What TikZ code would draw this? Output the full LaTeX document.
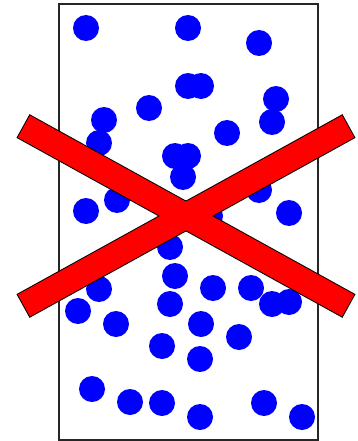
\documentclass[tikz,border=0pt]{standalone}
\usepackage{tikz}
\usetikzlibrary{positioning}

\begin{document}
\begin{tikzpicture}[x=1pt, y=-1pt,
  box/.style={draw=black!85, line width=1.2pt},
  particle/.style={fill=blue, draw=none},
  crossout/.style={black, line width=27pt},
  crossfill/.style={red, line width=25pt, shorten <=1pt, shorten >=1pt}
]
  \useasboundingbox (0,0) rectangle (357,441);
  \draw[box] (59,4) rectangle (318,440);

  \foreach \x/\y in {86/28, 188/28, 259/43, 188/86, 201/86, 276/99, 149/108,
                     104/120, 272/122, 99/143, 227/133, 175/156, 188/156,
                     183/177, 117/200, 259/190, 86/211, 289/213, 210/216,
                     170/247, 175/276, 99/289, 213/288, 251/288, 272/304,
                     289/302, 78/311, 170/304, 116/324, 201/324, 239/337,
                     162/346, 200/359, 92/389, 130/402, 162/403, 200/417,
                     264/403, 302/417}{
    \fill[particle] (\x,\y) circle (13);
  }

  \coordinate (ul) at (23,126);
  \coordinate (lr) at (349,306);
  \coordinate (ll) at (23,306);
  \coordinate (ur) at (349,126);
  \draw[crossout] (ul) -- (lr);
  \draw[crossout] (ll) -- (ur);
  \draw[crossfill] (ul) -- (lr);
  \draw[crossfill] (ll) -- (ur);
\end{tikzpicture}
\end{document}
